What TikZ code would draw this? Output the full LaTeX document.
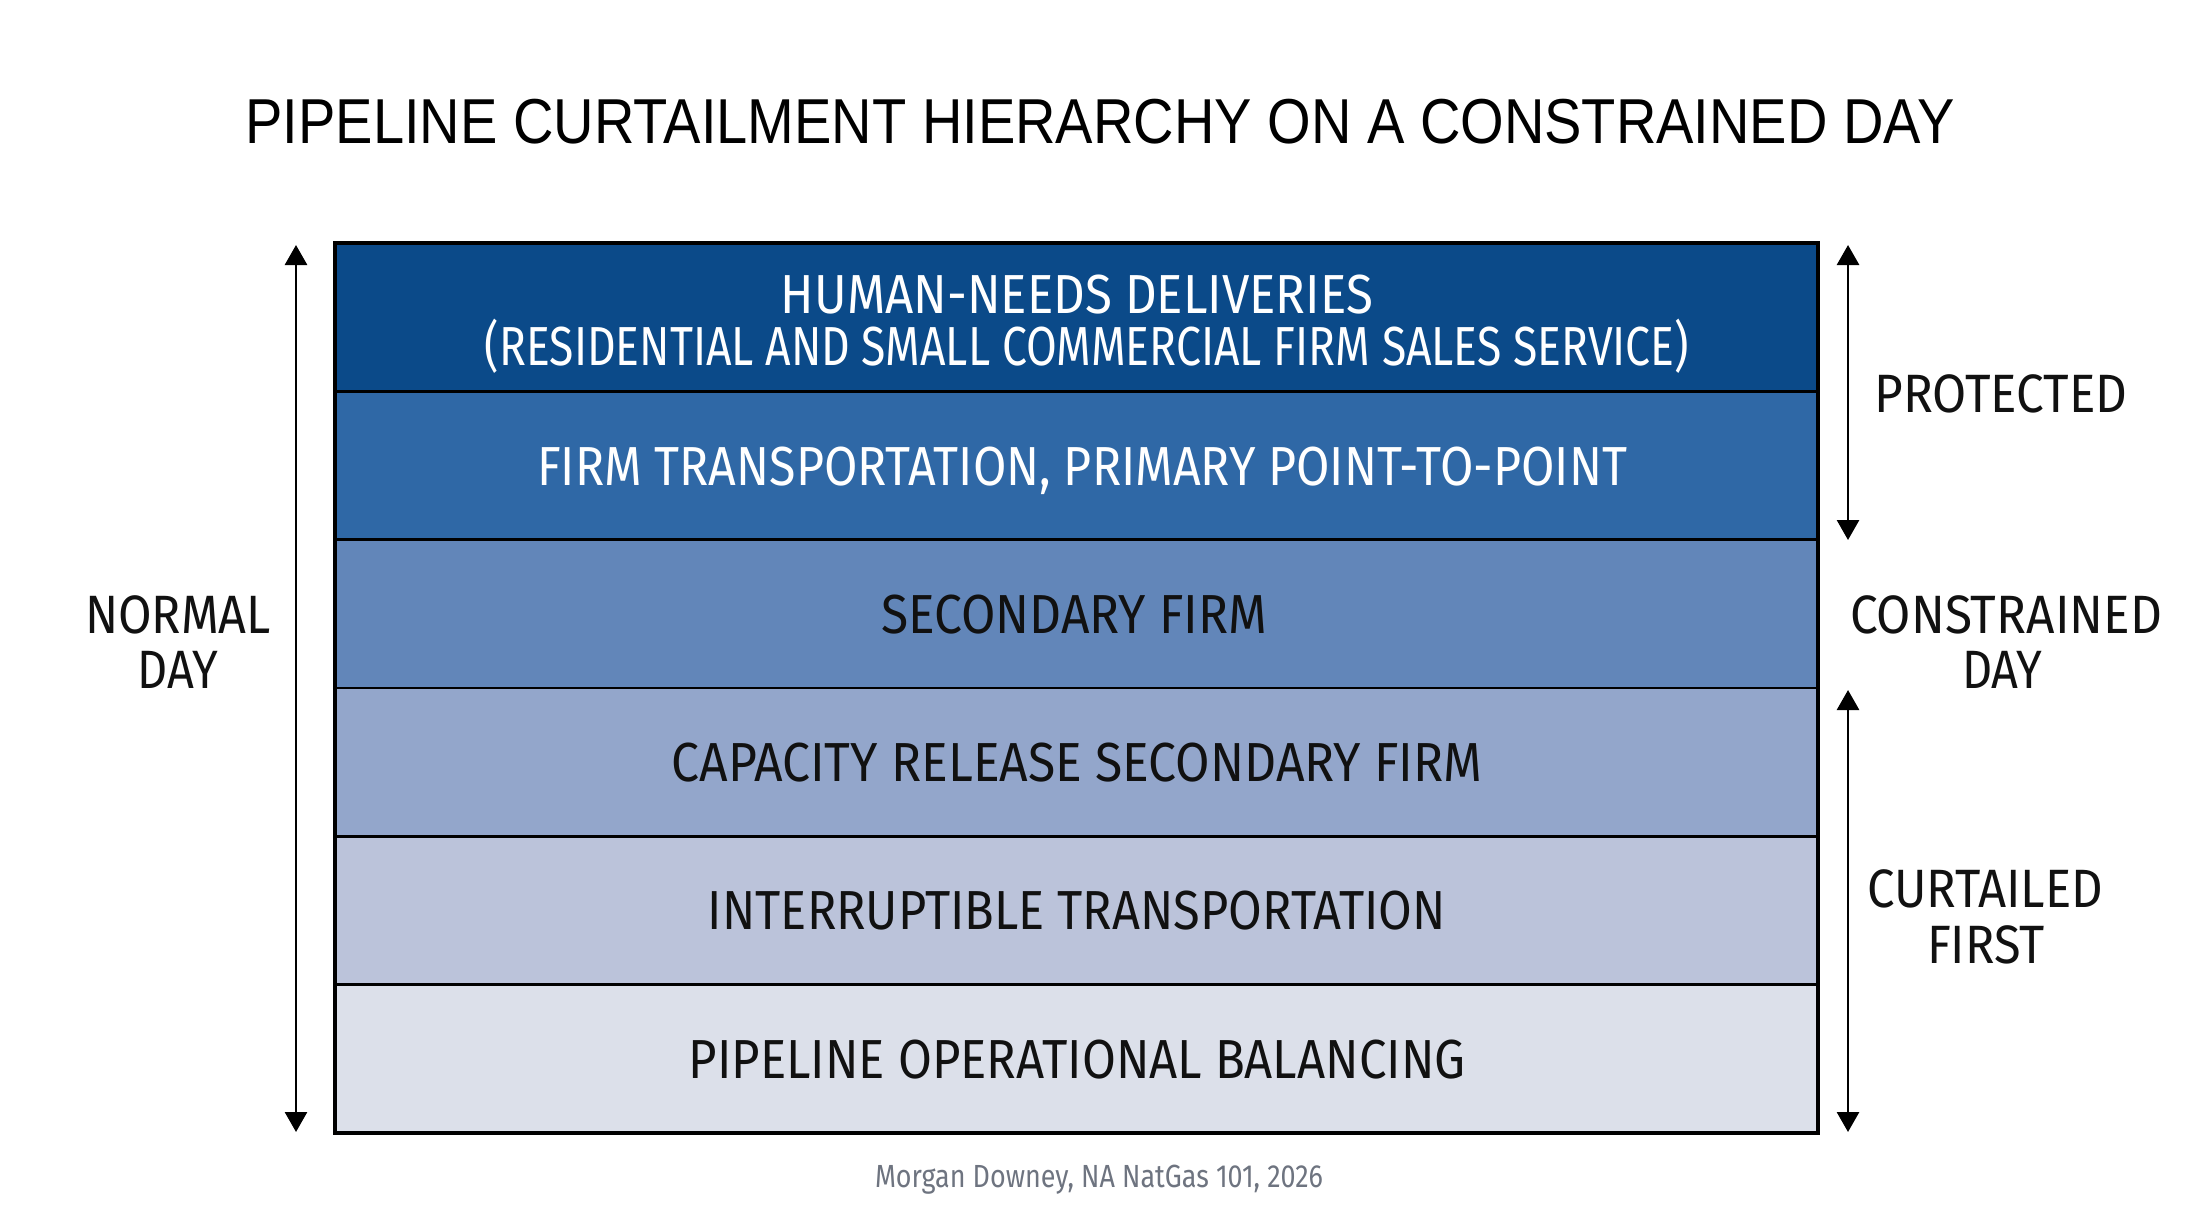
\documentclass[tikz,border=0pt]{standalone}
\usepackage{fontspec}
\usepackage{graphicx}
\setmainfont{Fira Sans}
\newfontfamily\titlefont{Liberation Sans}
\usetikzlibrary{arrows.meta}
\definecolor{rowA}{HTML}{0B4A89}
\definecolor{rowB}{HTML}{2F68A6}
\definecolor{rowC}{HTML}{6286B9}
\definecolor{rowD}{HTML}{93A6CB}
\definecolor{rowE}{HTML}{BBC3DA}
\definecolor{rowF}{HTML}{DCE0EA}
\definecolor{foot}{HTML}{6E7480}
\definecolor{ink}{HTML}{111111}
\newcommand\fitw[2]{\resizebox{#1}{\height}{#2}}
\begin{document}
\begin{tikzpicture}[x=1pt,y=-1pt,
  band/.style={draw=black,line width=2.5pt,minimum width=1483pt,minimum height=148.33pt,inner sep=0pt,outer sep=0pt,anchor=north west},
  rowtext/.style={anchor=base,inner sep=0pt,font=\fontsize{55}{60}\selectfont},
  sidetext/.style={anchor=base,inner sep=0pt,text=ink,font=\fontsize{54}{60}\selectfont},
  span/.style={line width=2.8pt,{Triangle[length=20pt,width=22pt]}-{Triangle[length=20pt,width=22pt]}}]
\useasboundingbox[fill=white] (0,0) rectangle (2200,1229);

% title
\node[anchor=base,inner sep=0pt,font=\titlefont\fontsize{63.5}{70}\selectfont] (title) at (1100,143)
  {\fitw{1709pt}{PIPELINE CURTAILMENT HIERARCHY ON A CONSTRAINED DAY}};

% bands
\node[band,fill=rowA] (r1) at (335,243) {};
\node[band,fill=rowB] (r2) at (335,391.33) {};
\node[band,fill=rowC] (r3) at (335,539.66) {};
\node[band,fill=rowD] (r4) at (335,688) {};
\node[band,fill=rowE] (r5) at (335,836.33) {};
\node[band,fill=rowF] (r6) at (335,984.66) {};
\draw[line width=3.5pt] (r1.north west) rectangle (r6.south east);

% band texts
\node[rowtext,text=white] (t1a) at (1077,313) {\fitw{592pt}{HUMAN-NEEDS DELIVERIES}};
\node[rowtext,text=white] (t1b) at (1087,365) {\fitw{1204pt}{(RESIDENTIAL AND SMALL COMMERCIAL FIRM SALES SERVICE)}};
\node[rowtext,text=white] (t2) at (1082,485) {\fitw{1090pt}{FIRM TRANSPORTATION, PRIMARY POINT-TO-POINT}};
\node[rowtext,text=ink] (t3) at (1074,633) {\fitw{386pt}{SECONDARY FIRM}};
\node[rowtext,text=ink] (t4) at (1077,781) {\fitw{811pt}{CAPACITY RELEASE SECONDARY FIRM}};
\node[rowtext,text=ink] (t5) at (1077,929) {\fitw{738pt}{INTERRUPTIBLE TRANSPORTATION}};
\node[rowtext,text=ink] (t6) at (1077,1078) {\fitw{777pt}{PIPELINE OPERATIONAL BALANCING}};

% side labels
\node[sidetext] (nd1) at (178,633) {\fitw{186pt}{NORMAL}};
\node[sidetext] (nd2) at (178,688) {\fitw{80pt}{DAY}};
\node[sidetext] (pr) at (2001,412) {\fitw{253pt}{PROTECTED}};
\node[sidetext] (cd1) at (2006,633) {\fitw{312pt}{CONSTRAINED}};
\node[sidetext] (cd2) at (2002,688) {\fitw{80pt}{DAY}};
\node[sidetext] (cf1) at (1985,907) {\fitw{236pt}{CURTAILED}};
\node[sidetext] (cf2) at (1986,963) {\fitw{118pt}{FIRST}};

% footer
\node[anchor=base,inner sep=0pt,text=foot,font=\fontsize{32}{36}\selectfont] (foot) at (1099,1187)
  {\fitw{448pt}{Morgan Downey, NA NatGas 101, 2026}};

% span arrows
\coordinate (lt) at (296,245);
\coordinate (lb) at (296,1132);
\coordinate (pt) at (1848,245);
\coordinate (pb) at (1848,540);
\coordinate (ct) at (1848,690);
\coordinate (cb) at (1848,1132);
\draw[span] (lt) -- (lb);
\draw[span] (pt) -- (pb);
\draw[span] (ct) -- (cb);
\end{tikzpicture}
\end{document}
